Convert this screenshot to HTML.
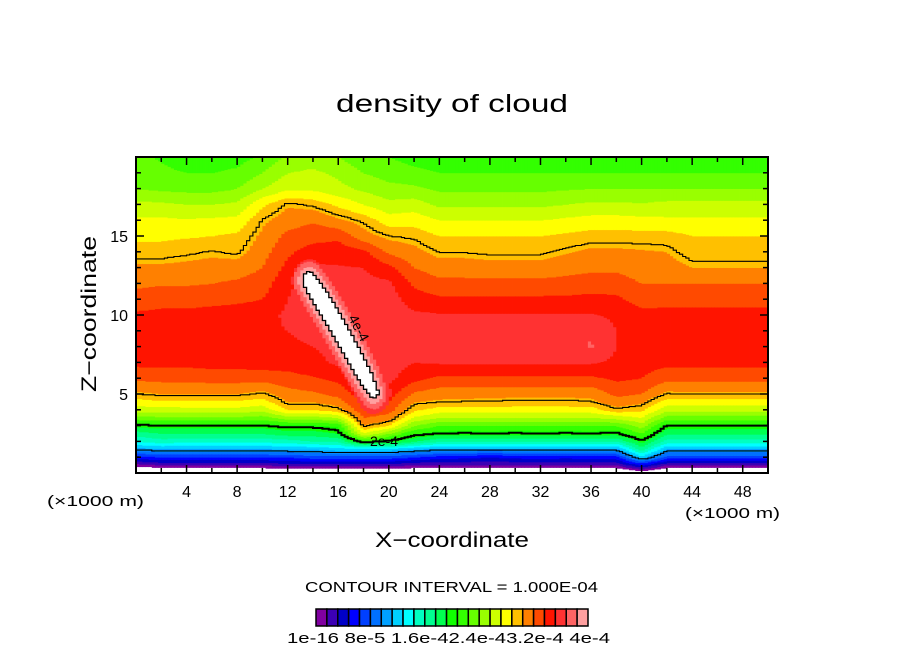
<!DOCTYPE html>
<html><head><meta charset="utf-8"><style>
html,body{margin:0;padding:0;background:#fff;}
svg{display:block;font-family:"Liberation Sans",sans-serif;}
</style></head><body>
<svg id="chart" width="904" height="654" viewBox="0 0 904 654" xmlns="http://www.w3.org/2000/svg">
<rect width="904" height="654" fill="#fff"/>
<text x="336" y="112" font-size="25" textLength="232" lengthAdjust="spacingAndGlyphs">density of cloud</text>
<g id="field"></g>
<g id="lines"></g>
<g id="axes"></g>
<text x="0" y="0" font-size="14" transform="translate(348,318) rotate(62)">4e-4</text>
<text x="370" y="446" font-size="14">2e-4</text>
<text transform="translate(96,392) rotate(-90)" font-size="21" textLength="156" lengthAdjust="spacingAndGlyphs">Z−coordinate</text>
<text x="375" y="547" font-size="21" textLength="154" lengthAdjust="spacingAndGlyphs">X−coordinate</text>
<text x="47" y="506" font-size="15" textLength="97" lengthAdjust="spacingAndGlyphs">(×1000 m)</text>
<text x="685" y="518" font-size="15" textLength="95" lengthAdjust="spacingAndGlyphs">(×1000 m)</text>
<text x="305" y="592" font-size="15" textLength="293" lengthAdjust="spacingAndGlyphs">CONTOUR INTERVAL = 1.000E-04</text>
<g id="cbar"></g>
<text x="287" y="643" font-size="15" textLength="323" lengthAdjust="spacingAndGlyphs">1e-16 8e-5 1.6e-42.4e-43.2e-4 4e-4</text>
</svg>
<script>
const xNodes=[0,2,4,6,8,10,12,14,16,18,20,22,24,26,28,30,32,34,36,38,40,42,44,46,48,50];
const zNodes=[0,0.5,1,1.5,2,2.5,3,3.5,4,4.5,5,6,7,8,9,10,11,12,13,14,15,16,17,18,19,20];
// field columns in units of 1.6e-5 (one colour step), one column per xNode, values at zNodes
const fieldColumns=[
[-3,0.5,3.5,6.5,9,10.5,12.3,14.5,16.5,17.5,18.75,20.2,21.3,21.5,21.5,21.2,20.4,19.8,19.2,18.4,17.8,17.2,16.3,15,14.5,14.2],
[-2,1,4,6.8,9.5,11,12.5,14.8,16.5,17.8,19,20.3,21.3,21.6,21.6,21.3,20.6,19.9,19.2,18.4,17.8,17.2,16.2,14.8,14.2,13.9],
[-2,1,4,6.8,9.3,11,12.5,14.8,16.6,17.8,19,20.3,21.3,21.6,21.6,21.3,20.6,19.9,19.3,18.6,17.9,17.1,16,14.7,14,13.5],
[-2.5,1,4,6.8,9.3,11,12.5,14.8,16.6,17.8,19,20.4,21.4,21.6,21.6,21.4,20.7,20,19.4,18.8,18,17.2,16,14.7,14,13.5],
[-2,1,4,6.8,9.3,11,12.5,14.8,16.6,17.8,19,20.4,21.4,21.7,21.7,21.5,20.8,20.2,19.5,18.6,18.2,17.3,16.2,15,14.2,13.6],
[-2,1,4,6.8,9.3,11,12.5,14.5,16.3,17.5,18.6,20.4,21.5,21.8,21.8,21.6,21,20.5,20,19.6,19.2,18.8,17.8,16,15,14.2],
[-2,1.5,4,7,9.5,11.5,12.8,15.5,18,19,19.6,20.6,21.5,21.8,22,22.2,22,21.8,21.3,20.8,20.3,19.5,18.9,16.8,16,15.2],
[-2,1.5,4.5,7,10,11.5,12.8,15.5,18,19,19.8,20.9,21.7,22,22.3,22.5,22.7,22.5,22.2,21.5,20.6,19.9,18.6,16.8,16.2,15.5],
[-2,1.5,4.5,7.5,10,12,13.2,16,18.5,19.5,20.3,21.3,22.2,22.3,22.5,22.6,22.5,22.3,22.1,21.5,20.8,19.2,17.8,16.3,15.8,15],
[-2,1.5,4.5,7.5,13,17,19,20,20.8,21.3,21.6,22.3,22.5,22.5,22.4,22.4,22.4,22.3,22,21.3,19.4,18.6,17,15.8,15,14.3],
[-2,1.5,4.5,7.5,12.3,15,18,19.5,20.5,21,21.5,22.3,22.5,22.5,22.5,22.6,22.5,22.2,21.3,19.8,18.75,17.5,16.3,15.3,14.6,14],
[-2,1,4,7,11,13,15,16.8,18.2,19,19.8,21.3,22,22.3,22.3,22.2,21.5,20.8,20,19.3,18.6,17.6,16.5,15.2,14.3,13.6],
[-2,1,3.5,6.5,10,12.5,14,16,17.5,18.8,19.4,20.8,22.1,22.4,22.4,22.1,21.2,20.3,19.5,18.7,18,17,15.8,14.8,14,13.3],
[-2,1,3.3,6.5,10,12.4,14,16,17.5,18.7,19.4,20.8,22.1,22.4,22.4,22.1,21.2,20.3,19.5,18.7,18,17,15.8,14.8,14,13.3],
[-2,1,3,6.5,10,12.5,14,16,17.5,18.7,19.3,20.8,22.1,22.4,22.4,22.1,21.2,20.3,19.4,18.6,18,17,15.8,14.8,14,13.3],
[-2,1,3.3,6.5,10,12.4,14,16,17.5,18.6,19.3,20.8,22.1,22.4,22.4,22.1,21.2,20.3,19.4,18.6,18,17,15.8,14.8,14,13.3],
[-2,1,3.5,6.5,10,12.5,14,16,17.5,18.6,19.3,20.8,22.1,22.4,22.4,22.1,21.2,20.3,19.4,18.6,18,17,15.8,14.8,14,13.3],
[-2,1,3.3,6.5,10,12.4,14,16,17.5,18.6,19.3,20.8,22.1,22.5,22.5,22.1,21.2,20.4,19.6,18.9,18.2,17.2,16,14.9,14,13.3],
[-2,1,3.5,6.5,10,12.5,14,16,17.5,18.7,19.3,20.8,22.1,23.1,22.9,22.1,21.3,20.5,19.8,19.2,18.4,17.4,16.2,15,14,13.3],
[-2,1,3.5,6.5,10,12.3,14,16.3,18.6,19.6,20.2,21.2,21.8,22,22,21.8,21.2,20.5,19.8,19.2,18.4,17.4,16.2,15,14,13.3],
[-1,3,7.5,10.5,12.3,14,15.5,17,18.2,19.2,20,21,21.4,21.5,21.5,21.3,20.6,20,19.5,19.1,18.4,17.3,16.1,15,14,13.3],
[-2,1,4.5,6.8,9.5,11.2,12.5,14.5,16.3,17.5,18.7,20.3,21.3,21.5,21.5,21.3,20.7,20,19.4,19,18.4,17.2,16.3,15,14,13.3],
[-2,1,4.5,6.8,9.5,11.2,12.5,14.5,16.3,17.5,18.8,20.3,21.3,21.5,21.5,21.3,20.7,20,19,18.4,18,17.2,16.3,15,14,13.3],
[-2,1,4.5,6.8,9.5,11.2,12.5,14.5,16.3,17.5,18.8,20.3,21.3,21.5,21.5,21.3,20.7,20,19,18.4,18,17.2,16.3,15,14,13.3],
[-2,1,4.5,6.8,9.5,11.2,12.5,14.5,16.3,17.5,18.8,20.3,21.3,21.5,21.5,21.3,20.7,20,19,18.4,18,17.2,16.3,15,14,13.3],
[-2,1,4.5,6.8,9.5,11.2,12.5,14.5,16.3,17.5,18.8,20.3,21.3,21.5,21.5,21.3,20.7,20,19,18.4,18,17.2,16.3,15,14,13.3]
];
// plume core ridge (axis points, km) and peak values along it
const coreX=[13.7,14.5,15.5,16.5,17.4,18.2,18.8];
const coreZ=[12.2,11.2,9.9,8.5,7.2,6,5.1];
const corePeak=[26.6,26.9,26.9,26.9,26.8,26.6,26.1];
const coreFalloff=3;   // colour steps per km away from the ridge axis
const coreReach=1.35;  // km beyond which the ridge has no effect
const levelColors=['#8000a0','#3c00b4','#0000c8','#0000ff','#0040ff','#0070ff','#00a0ff','#00d0ff','#00ffff','#00ffc0','#00ff90','#00ff50','#10ff00','#33ff00','#66ff00','#99ff00','#ccff00','#ffff00','#ffc000','#ff8000','#ff4a00','#ff1400','#ff3232','#ff6464','#ffa0a0'];
const lineLevels=[6.25,12.5,18.75,25];
const lineWidths=[1.1,2,1.1,1.3];
const xTickLabels=[4,8,12,16,20,24,28,32,36,40,44,48];
const yTickLabels=[5,10,15];

const PL=136,PR=768,PT=157,PB=473,XMAX=50,ZMAX=20;
const X=x=>PL+x/XMAX*(PR-PL);
const Z=z=>PB-z/ZMAX*(PB-PT);
const NS='http://www.w3.org/2000/svg';
function mk(tag,attrs,parent){const e=document.createElementNS(NS,tag);for(const k in attrs)e.setAttribute(k,attrs[k]);parent.appendChild(e);return e;}
function idx(arr,v){let i=0;while(i<arr.length-2&&arr[i+1]<=v)i++;return i;}
function baseVal(x,z){
  const i=idx(xNodes,x),j=idx(zNodes,z);
  const tx=Math.min(1,Math.max(0,(x-xNodes[i])/(xNodes[i+1]-xNodes[i])));
  const tz=Math.min(1,Math.max(0,(z-zNodes[j])/(zNodes[j+1]-zNodes[j])));
  const a=fieldColumns[i][j],b=fieldColumns[i+1][j],c=fieldColumns[i][j+1],d=fieldColumns[i+1][j+1];
  return (a*(1-tx)+b*tx)*(1-tz)+(c*(1-tx)+d*tx)*tz;
}
function ridgeVal(x,z){
  let best=-99;
  for(let k=0;k<coreX.length-1;k++){
    const ax=coreX[k],az=coreZ[k],bx=coreX[k+1],bz=coreZ[k+1];
    const vx=bx-ax,vz=bz-az,L2=vx*vx+vz*vz;
    let t=((x-ax)*vx+(z-az)*vz)/L2;t=Math.max(0,Math.min(1,t));
    const px=ax+t*vx,pz=az+t*vz,d=Math.hypot(x-px,z-pz);
    if(d>coreReach)continue;
    const pk=corePeak[k]*(1-t)+corePeak[k+1]*t;
    best=Math.max(best,pk-coreFalloff*d);
  }
  return best;
}
function val(x,z){return Math.max(baseVal(x,z),ridgeVal(x,z));}
const field=document.getElementById('field');
const DX=0.25,DZ=0.05,NX=Math.round(XMAX/DX),NZ=Math.round(ZMAX/DZ);
const grid=[];
for(let c=0;c<NX;c++){const col=[];for(let r=0;r<NZ;r++)col.push(val((c+0.5)*DX,(r+0.5)*DZ));grid.push(col);}
function colorOf(v){if(v<0||v>=25)return null;return levelColors[Math.min(24,Math.floor(v))];}
for(let c=0;c<NX;c++){
  let r=0;
  while(r<NZ){
    const col=colorOf(grid[c][r]);let r2=r;
    while(r2+1<NZ&&colorOf(grid[c][r2+1])===col)r2++;
    if(col){
      const x0=X(c*DX),x1=X((c+1)*DX);
      const cell=mk('rect',{x:x0.toFixed(2),y:Z((r2+1)*DZ).toFixed(2),width:(x1-x0+0.4).toFixed(2),height:(Z(r*DZ)-Z((r2+1)*DZ)+0.4).toFixed(2),fill:col},field);
      
      
    }
    r=r2+1;
  }
}
const lines=document.getElementById('lines');
lineLevels.forEach((L,li)=>{
  let d='';
  for(let c=0;c<NX;c++)for(let r=0;r<NZ;r++){
    const a=grid[c][r]>=L;
    if(r+1<NZ&&a!==(grid[c][r+1]>=L))d+=`M${X(c*DX).toFixed(1)} ${Z((r+1)*DZ).toFixed(1)}H${X((c+1)*DX).toFixed(1)}`;
    if(c+1<NX&&a!==(grid[c+1][r]>=L))d+=`M${X((c+1)*DX).toFixed(1)} ${Z(r*DZ).toFixed(1)}V${Z((r+1)*DZ).toFixed(1)}`;
  }
  const p=mk('path',{d:d,fill:'none',stroke:'#000','stroke-width':lineWidths[li],'stroke-linecap':'square'},lines);
  
  
});
const axes=document.getElementById('axes');
const frame=mk('rect',{x:PL,y:PT,width:PR-PL,height:PB-PT,fill:'none',stroke:'#000','stroke-width':2},axes);


for(let x=2;x<XMAX;x+=2){
  const len=(x%4===0)?8:5;
  const t1=mk('line',{x1:X(x),x2:X(x),y1:PB,y2:PB-len,stroke:'#000','stroke-width':1.5},axes);
  
  
  const t2=mk('line',{x1:X(x),x2:X(x),y1:PT,y2:PT+len,stroke:'#000','stroke-width':1.5},axes);
  
  
}
for(let z=1;z<ZMAX;z++){
  const len=(z%5===0)?8:5;
  const t1=mk('line',{x1:PL,x2:PL+len,y1:Z(z),y2:Z(z),stroke:'#000','stroke-width':1.5},axes);
  
  
  const t2=mk('line',{x1:PR,x2:PR-len,y1:Z(z),y2:Z(z),stroke:'#000','stroke-width':1.5},axes);
  
  
}
xTickLabels.forEach(v=>{
  const t=mk('text',{x:X(v),y:497,'font-size':16,'text-anchor':'middle'},axes);
  t.textContent=v;
  
  
});
yTickLabels.forEach(v=>{
  const t=mk('text',{x:128,y:Z(v)+6,'font-size':16,'text-anchor':'end'},axes);
  t.textContent=v;
  
  
});
const cbar=document.getElementById('cbar');
const CB0=316,CB1=588,n=levelColors.length;
levelColors.forEach((c,i)=>{
  const x0=CB0+(CB1-CB0)*i/n,x1=CB0+(CB1-CB0)*(i+1)/n;
  const b=mk('rect',{x:x0,y:609,width:x1-x0,height:17,fill:c,stroke:'#000','stroke-width':1.5},cbar);
  
  
});
</script>
</body></html>
